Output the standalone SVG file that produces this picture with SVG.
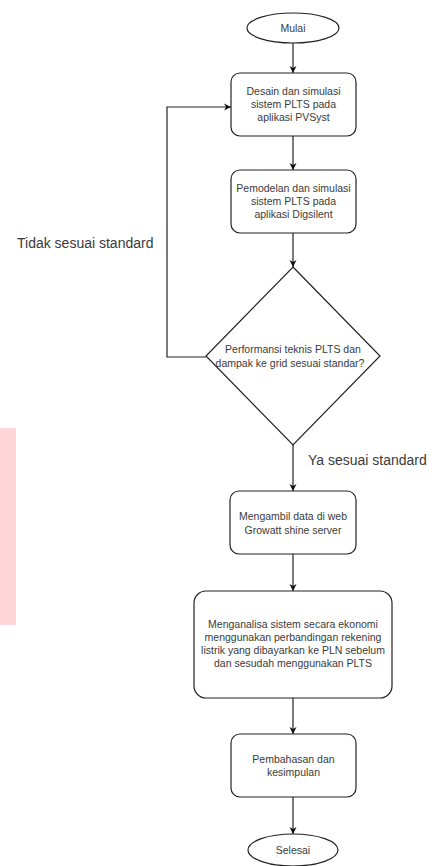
<svg xmlns="http://www.w3.org/2000/svg" width="435" height="866" viewBox="0 0 435 866">
<style>
.shape{fill:#fff;stroke:#222;stroke-width:1.2}
.t{font-family:"Liberation Sans",Arial,sans-serif;font-size:10.5px;fill:#3a3a3a;text-anchor:middle}
.lbl{font-family:"Liberation Sans",Arial,sans-serif;font-size:14px;fill:#3a3a3a}
.edge{fill:none;stroke:#222;stroke-width:1.2}
</style>
<defs>
<marker id="arr" viewBox="0 0 10 10" refX="10" refY="5" markerWidth="7" markerHeight="8" orient="auto" markerUnits="userSpaceOnUse">
<path d="M0,0 L10,5 L0,10 L3,5 Z" fill="#111"/>
</marker>
</defs>
<rect x="0" y="428" width="16" height="197" fill="#ffd6d8"/>
<g id="connectors">
<line class="edge" x1="293" y1="43" x2="293" y2="73" marker-end="url(#arr)"/>
<line class="edge" x1="293" y1="136" x2="293" y2="170" marker-end="url(#arr)"/>
<line class="edge" x1="293" y1="233" x2="293" y2="267" marker-end="url(#arr)"/>
<polyline class="edge" points="206,357 167,357 167,107 231,107" marker-end="url(#arr)"/>
<line class="edge" x1="293" y1="445" x2="293" y2="491" marker-end="url(#arr)"/>
<line class="edge" x1="293" y1="554" x2="293" y2="591" marker-end="url(#arr)"/>
<line class="edge" x1="293" y1="698" x2="293" y2="734" marker-end="url(#arr)"/>
<line class="edge" x1="293" y1="797" x2="293" y2="834" marker-end="url(#arr)"/>
<text class="lbl" x="17" y="248">Tidak sesuai standard</text>
<text class="lbl" x="308" y="465">Ya sesuai standard</text>
</g>
<g id="mulai">
<ellipse class="shape" cx="293" cy="28" rx="46" ry="15"/>
<text class="t" x="293" y="32">Mulai</text>
</g>
<g id="desain">
<rect class="shape" x="231" y="73" width="125" height="63" rx="9"/>
<text class="t" x="293.5" y="95">Desain dan simulasi</text>
<text class="t" x="293.5" y="108">sistem PLTS pada</text>
<text class="t" x="293.5" y="121">aplikasi PVSyst</text>
</g>
<g id="pemodelan">
<rect class="shape" x="231" y="170" width="125" height="63" rx="9"/>
<text class="t" x="293.5" y="192">Pemodelan dan simulasi</text>
<text class="t" x="293.5" y="205">sistem PLTS pada</text>
<text class="t" x="293.5" y="218">aplikasi Digsilent</text>
</g>
<g id="keputusan">
<polygon class="shape" points="293,267 380,356 293,445 206,356"/>
<text class="t" x="293" y="353">Performansi teknis PLTS dan</text>
<text class="t" x="290" y="367">dampak ke grid sesuai standar?</text>
</g>
<g id="mengambil">
<rect class="shape" x="230" y="491" width="126" height="63" rx="9"/>
<text class="t" x="293" y="520">Mengambil data di web</text>
<text class="t" x="293" y="534">Growatt shine server</text>
</g>
<g id="menganalisa">
<rect class="shape" x="194" y="591" width="198" height="107" rx="12"/>
<text class="t" x="293" y="628">Menganalisa sistem secara ekonomi</text>
<text class="t" x="293" y="641">menggunakan perbandingan rekening</text>
<text class="t" x="293" y="654">listrik yang dibayarkan ke PLN sebelum</text>
<text class="t" x="293" y="667">dan sesudah menggunakan PLTS</text>
</g>
<g id="pembahasan">
<rect class="shape" x="231" y="734" width="125" height="63" rx="9"/>
<text class="t" x="293.5" y="763">Pembahasan dan</text>
<text class="t" x="293.5" y="776">kesimpulan</text>
</g>
<g id="selesai">
<ellipse class="shape" cx="293" cy="850" rx="45" ry="16"/>
<text class="t" x="293" y="854">Selesai</text>
</g>
</svg>
